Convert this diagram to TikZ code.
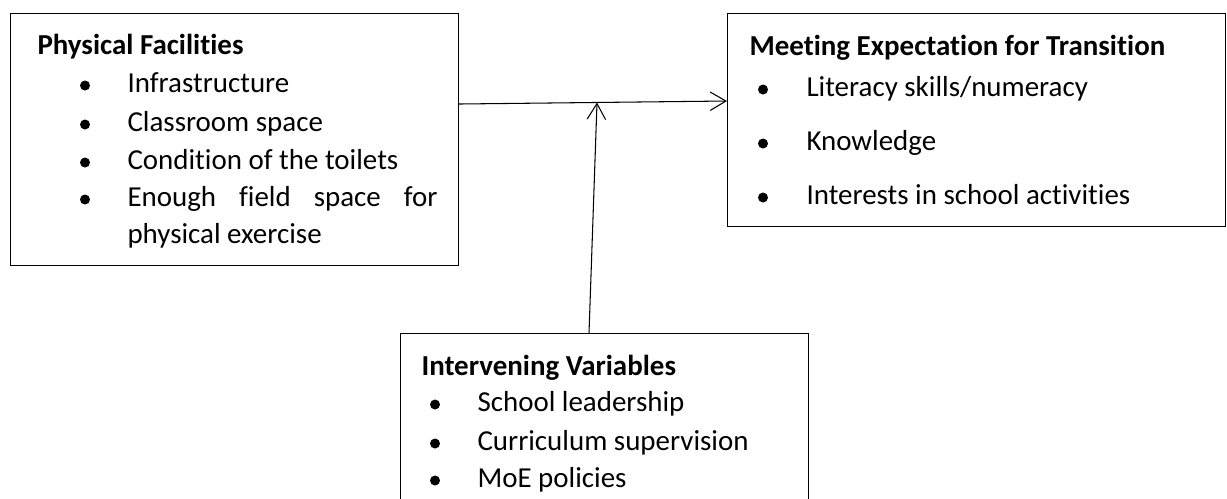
\documentclass[tikz,border=0pt]{standalone}
\usepackage{fontspec}
\setmainfont[Ligatures=NoCommon]{Carlito}
\usepackage{tikz}
\usetikzlibrary{calc,arrows.meta}
\tikzset{
  box/.style={draw, line width=0.5pt, anchor=north west, inner sep=0pt},
  txt/.style={anchor=base west, inner sep=0pt, font=\fontsize{11}{13}\selectfont},
  head/.style={txt, font=\fontsize{11}{13}\selectfont\bfseries},
  arr/.style={line width=0.4pt, -{Straight Barb[length=6pt,width=7pt]}}
}
\def\bdot(#1,#2){\fill (#1,#2) circle (5);}

\begin{document}
\begin{tikzpicture}[x=0.38pt, y=-0.38pt]
			%%%%% START %%%%%
			\clip (0, 0) rectangle (1227, 498);
			
			% physical facilities
			\node[box, minimum width=170.2pt, minimum height=95.8pt] (pf) at (10, 13) {};
			\node[head] (pfh) at (37, 54) {Physical Facilities};
			\bdot(85, 85.5)
			\node[txt] (pf1) at (127, 92) {Infrastructure};
			\bdot(85, 124.5)
			\node[txt] (pf2) at (127, 131) {Classroom space};
			\bdot(85, 162.5)
			\node[txt] (pf3) at (127, 169) {Condition of the toilets};
			\bdot(85, 199.5)
			\node[txt] (pf4) at (127, 206) {\makebox[117.8pt][s]{Enough field space for}};
			\node[txt] (pf5) at (127, 243) {physical exercise};
			
			% meeting expectation
			\node[box, minimum width=189.2pt, minimum height=80.9pt] (me) at (727, 13) {};
			\node[head] (meh) at (749, 55) {Meeting Expectation for Transition};
			\bdot(763, 89.5)
			\node[txt] (me1) at (806, 96) {Literacy skills/numeracy};
			\bdot(763, 143.5)
			\node[txt] (me2) at (806, 150) {Knowledge};
			\bdot(763, 197.5)
			\node[txt] (me3) at (806, 204) {Interests in school activities};
			
			% intervening variables
			\node[box, minimum width=155pt, minimum height=71pt] (iv) at (400, 333) {};
			\node[head] (ivh) at (421, 375) {Intervening Variables};
			\bdot(435, 404.5)
			\node[txt] (iv1) at (477, 411) {School leadership};
			\bdot(435, 443.5)
			\node[txt] (iv2) at (477, 450) {Curriculum supervision};
			\bdot(435, 480.5)
			\node[txt] (iv3) at (477, 487) {MoE policies};
			
			% arrows
			\coordinate (meet) at (597, 102.5);
			\draw[arr] ($(pf.north east)+(0, 91)$) -- ($(me.north west)+(0, 88)$);
			\draw[arr] ($(iv.north west)+(189, 0)$) -- (meet);
			
			%%%%% END %%%%%
\end{tikzpicture}
\end{document}
